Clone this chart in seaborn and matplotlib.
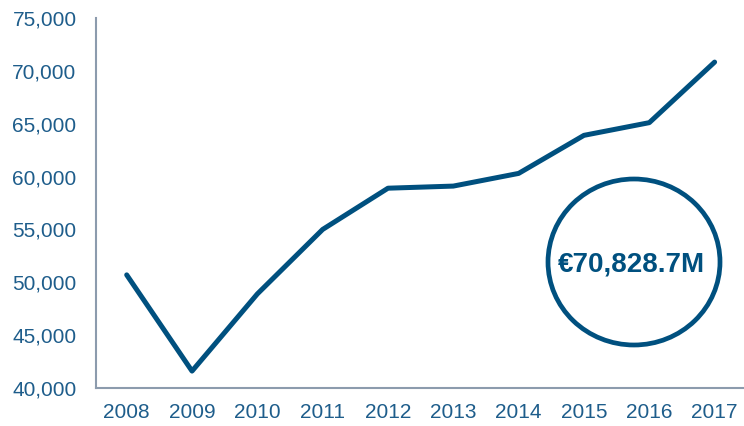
import matplotlib
matplotlib.use("Agg")
import matplotlib.pyplot as plt
import seaborn as sns
import pandas as pd
from matplotlib.patches import Ellipse
from matplotlib.ticker import FuncFormatter

# values
years = [2008, 2009, 2010, 2011, 2012, 2013, 2014, 2015, 2016, 2017]
values = [50700, 41600, 48900, 55000, 58900, 59100, 60300, 63900, 65100, 70829]
highlight_label = "€70,828.7M"

line_color = "#00507F"
tick_color = "#1E5D8B"
spine_color = "#8C9BAD"

sns.set_style("white")
plt.rcParams["font.family"] = ["Liberation Sans", "DejaVu Sans"]

df = pd.DataFrame({"year": years, "value": values})

fig = plt.figure(figsize=(7.44, 4.26), dpi=100)
ax = fig.add_axes([96 / 744, 1 - 388 / 426, 1 - 96 / 744, (388 - 18) / 426])

sns.lineplot(data=df, x="year", y="value", ax=ax, color=line_color,
             linewidth=3.6, solid_capstyle="round", solid_joinstyle="round")

ax.set_xlim(2007.53, 2017.45)
ax.set_ylim(40000, 75000)
ax.set_xticks(years)
ax.set_yticks(range(40000, 75001, 5000))
ax.yaxis.set_major_formatter(FuncFormatter(lambda v, p: f"{int(v):,}"))
ax.set_xlabel("")
ax.set_ylabel("")

ax.tick_params(axis="y", length=0, pad=14, labelsize=15, labelcolor=tick_color)
ax.tick_params(axis="x", length=0, pad=11, labelsize=15, labelcolor=tick_color)

for side in ["top", "right"]:
    ax.spines[side].set_visible(False)
for side in ["left", "bottom"]:
    ax.spines[side].set_color(spine_color)
    ax.spines[side].set_linewidth(1.5)
ax.grid(False)

# highlight circle with the 2017 total
circle = Ellipse((634 / 744, 1 - 262 / 426), 172 / 744, 166 / 426,
                 transform=fig.transFigure, fill=False,
                 edgecolor=line_color, linewidth=3.4)
fig.patches.append(circle)
fig.text(631 / 744, 1 - 264 / 426, highlight_label, ha="center", va="center",
         fontsize=20, fontweight="bold", color=line_color)

fig.savefig("out.png", dpi=100)
